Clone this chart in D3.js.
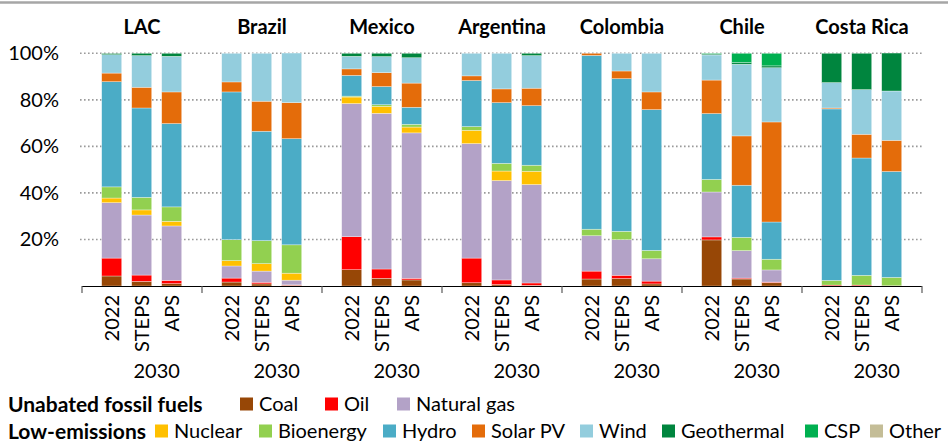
<!DOCTYPE html>
<html>
<head>
<meta charset="utf-8">
<script src="https://cdn.jsdelivr.net/npm/d3@7"></script>
<style>
  body { margin: 0; background: #fff; }
  svg { display: block; font-family: Lato, "Open Sans", sans-serif; }
</style>
</head>
<body>
<svg id="chart" width="948" height="444"></svg>
<script>
// regions and scenarios
var regions = ["LAC", "Brazil", "Mexico", "Argentina", "Colombia", "Chile", "Costa Rica"];
var scenarios = ["2022", "STEPS", "APS"];

// share of generation (%), per region: 2022, STEPS, APS
var coal       = [4.3, 2.0, 1.0,  1.7, 0.9, 0.3,  7.0, 3.3, 2.6,  1.4, 0.6, 0.3,  3.0, 3.2, 0.9,  19.8, 3.0, 1.4,  0, 0, 0];
var oil        = [7.7, 2.7, 1.4,  1.7, 0.7, 0.2,  14.2, 4.0, 0.7,  10.6, 2.0, 1.0,  3.4, 1.4, 1.2,  1.3, 0.4, 0.3,  0.4, 0.4, 0.1];
var naturalGas = [23.8, 25.8, 23.4,  5.2, 4.8, 2.0,  57.2, 66.9, 62.5,  49.2, 42.7, 42.3,  15.2, 15.3, 9.6,  19.3, 11.8, 5.2,  0, 0, 0];
var nuclear    = [2.0, 2.2, 2.0,  2.3, 3.2, 3.0,  2.8, 3.0, 2.5,  5.7, 4.1, 5.7,  0, 0, 0,  0, 0, 0,  0, 0, 0];
var bioenergy  = [4.8, 5.4, 6.2,  9.0, 9.9, 12.2,  0.4, 0.7, 1.2,  1.6, 3.3, 2.6,  2.8, 3.6, 3.6,  5.4, 5.7, 4.6,  2.0, 4.2, 3.6];
var hydro      = [45.2, 38.4, 35.8,  63.5, 47.0, 45.6,  8.9, 7.8, 7.3,  19.8, 26.1, 25.6,  74.7, 65.6, 60.5,  28.3, 22.4, 16.0,  73.7, 50.4, 45.5];
var solarPV    = [3.7, 8.9, 13.6,  4.3, 12.9, 15.5,  2.8, 6.0, 10.4,  2.0, 5.9, 7.5,  0.9, 3.3, 7.6,  14.4, 21.2, 43.0,  0.4, 10.2, 13.4];
var wind       = [7.9, 13.6, 15.3,  12.3, 20.6, 21.3,  5.4, 6.9, 10.9,  9.7, 15.3, 14.0,  0, 7.6, 16.6,  10.8, 30.8, 23.3,  10.9, 19.2, 21.2];
var geothermal = [0.5, 1.0, 1.3,  0, 0, 0,  1.3, 1.4, 1.9,  0, 0, 1.0,  0, 0, 0,  0.4, 0.7, 0.8,  12.6, 15.6, 16.3];
var csp        = [0, 0, 0,  0, 0, 0,  0, 0, 0,  0, 0, 0,  0, 0, 0,  0.3, 4.0, 5.4,  0, 0, 0];
var other      = [0, 0, 0,  0, 0, 0,  0, 0, 0,  0, 0, 0,  0, 0, 0,  0, 0, 0,  0, 0, 0];

var yTicks = [20, 40, 60, 80, 100];

var series = [
  {key: "Coal", values: coal, color: "#974706"},
  {key: "Oil", values: oil, color: "#ff0000"},
  {key: "Natural gas", values: naturalGas, color: "#b3a2c7"},
  {key: "Nuclear", values: nuclear, color: "#ffc000"},
  {key: "Bioenergy", values: bioenergy, color: "#92d050"},
  {key: "Hydro", values: hydro, color: "#4bacc6"},
  {key: "Solar PV", values: solarPV, color: "#e46c0a"},
  {key: "Wind", values: wind, color: "#93cddd"},
  {key: "Geothermal", values: geothermal, color: "#00853e"},
  {key: "CSP", values: csp, color: "#00b050"},
  {key: "Other", values: other, color: "#c4bd97"}
];

// one row per bar
var rows = [];
regions.forEach(function(r, ri) {
  scenarios.forEach(function(s, si) {
    var row = {region: r, scenario: s};
    series.forEach(function(d) { row[d.key] = d.values[ri * 3 + si]; });
    rows.push(row);
  });
});

var stacked = d3.stack().keys(series.map(function(d) { return d.key; }))(rows);

var svg = d3.select("#chart");
var plotLeft = 82, plotRight = 922, plotTop = 53.3, plotBottom = 286;

var x0 = d3.scaleBand().domain(regions).range([plotLeft, plotRight]);
var x1 = d3.scalePoint().domain(scenarios).range([29.7, 89.7]);
var barW = 20;
var y = d3.scaleLinear().domain([0, 100]).range([plotBottom, plotTop]);

// top rule
svg.append("line")
  .attr("x1", 0).attr("x2", 948).attr("y1", 2.5).attr("y2", 2.5)
  .attr("stroke", "#a6a6a6").attr("stroke-width", 2.5);

// gridlines
svg.append("g")
  .selectAll("line").data(yTicks).enter().append("line")
  .attr("x1", 80).attr("x2", plotRight)
  .attr("y1", function(d) { return y(d); }).attr("y2", function(d) { return y(d); })
  .attr("stroke", "#9a9a9a").attr("stroke-width", 1.6)
  .attr("stroke-dasharray", "1.6 2.4");

// y axis labels
var yAxis = svg.append("g")
  .attr("transform", "translate(" + plotLeft + ",0)")
  .call(d3.axisLeft(y).tickValues(yTicks).tickSize(0).tickPadding(23)
    .tickFormat(function(d) { return d + "%"; }));
yAxis.select(".domain").remove();
yAxis.selectAll("text").attr("font-size", 20).attr("fill", "#000")
  .style("font-family", "Lato, sans-serif");

// bars
svg.append("g").selectAll("g").data(stacked).enter().append("g")
  .attr("fill", function(d, i) { return series[i].color; })
  .selectAll("rect").data(function(d) { return d; }).enter().append("rect")
  .attr("x", function(d) { return x0(d.data.region) + x1(d.data.scenario) - barW / 2; })
  .attr("width", barW)
  .attr("y", function(d) { return y(d[1]); })
  .attr("height", function(d) { return Math.max(0, y(d[0]) - y(d[1])); })
  .attr("stroke", "#ffffff").attr("stroke-opacity", 0.55).attr("stroke-width", 0.6);

// x axis line and group ticks
var bounds = regions.map(function(r) { return x0(r); }).concat([plotRight]);
svg.append("line")
  .attr("x1", plotLeft).attr("x2", plotRight).attr("y1", plotBottom + 0.5).attr("y2", plotBottom + 0.5)
  .attr("stroke", "#000").attr("stroke-width", 1);
svg.append("g").selectAll("line").data(bounds).enter().append("line")
  .attr("x1", function(d) { return d; }).attr("x2", function(d) { return d; })
  .attr("y1", plotBottom).attr("y2", plotBottom + 7)
  .attr("stroke", "#595959").attr("stroke-width", 1.2);

// scenario labels (rotated)
var lab = svg.append("g").attr("font-size", 20).attr("fill", "#000");
rows.forEach(function(d) {
  lab.append("text")
    .attr("transform", "translate(" + (x0(d.region) + x1(d.scenario)) + ",295) rotate(-90)")
    .attr("text-anchor", "end").attr("dy", "0.36em")
    .text(d.scenario);
});

// 2030 labels under STEPS/APS
svg.append("g").selectAll("text").data(regions).enter().append("text")
  .attr("x", function(r) { return x0(r) + (x1("STEPS") + x1("APS")) / 2; })
  .attr("y", 378)
  .attr("text-anchor", "middle").attr("font-size", 20)
  .text("2030");

// region titles
svg.append("g").selectAll("text").data(regions).enter().append("text")
  .attr("x", function(r) { return x0(r) + x0.bandwidth() / 2; })
  .attr("y", 34)
  .attr("text-anchor", "middle").attr("font-size", 20).attr("font-weight", "bold")
  .text(function(r) { return r; });

// legend
var legendRows = [
  {label: "Unabated fossil fuels", y: 404, items: [
    {key: "Coal", x: 240}, {key: "Oil", x: 325}, {key: "Natural gas", x: 397}]},
  {label: "Low-emissions", y: 431, items: [
    {key: "Nuclear", x: 155}, {key: "Bioenergy", x: 259}, {key: "Hydro", x: 383},
    {key: "Solar PV", x: 472}, {key: "Wind", x: 580}, {key: "Geothermal", x: 662},
    {key: "CSP", x: 805}, {key: "Other", x: 870}]}
];
var colorOf = {};
series.forEach(function(d) { colorOf[d.key] = d.color; });

legendRows.forEach(function(row) {
  var g = svg.append("g");
  g.append("text").attr("x", 8).attr("y", row.y).attr("dy", "0.36em")
    .attr("font-size", 21).attr("font-weight", "bold").text(row.label);
  row.items.forEach(function(it) {
    g.append("rect").attr("x", it.x).attr("y", row.y - 6.5)
      .attr("width", 13).attr("height", 13).attr("fill", colorOf[it.key]);
    g.append("text").attr("x", it.x + 19).attr("y", row.y).attr("dy", "0.36em")
      .attr("font-size", 20).text(it.key);
  });
});
</script>
</body>
</html>
